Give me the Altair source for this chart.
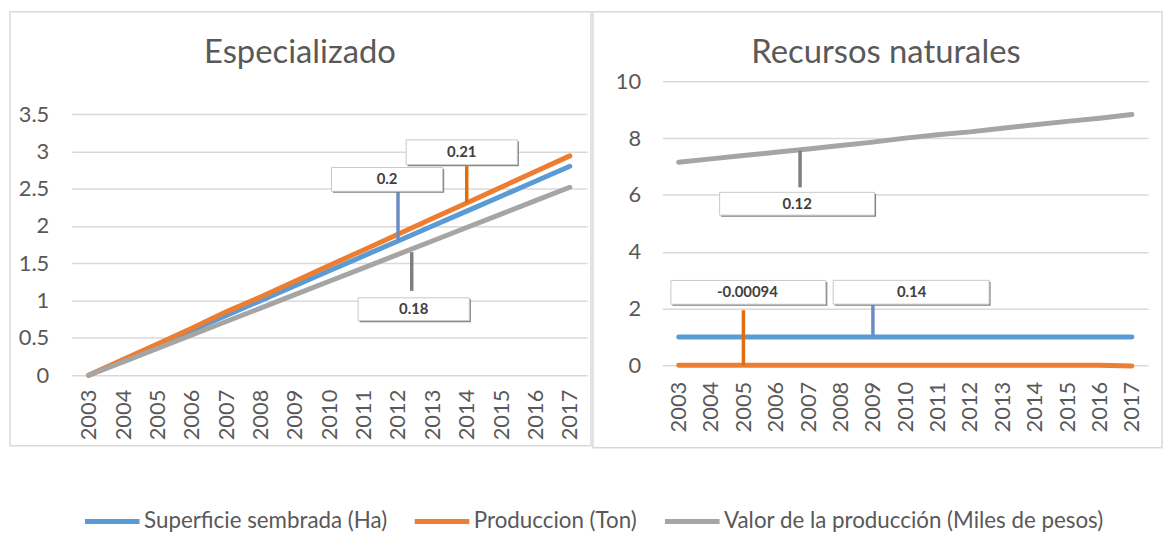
import altair as alt
import pandas as pd

# ---------------- data ----------------
years = list(range(2003, 2018))
series_names = ["Superficie sembrada (Ha)", "Produccion (Ton)",
                "Valor de la producción (Miles de pesos)"]
series_colors = ["#5B9BD5", "#ED7D31", "#A5A5A5"]
leader_colors = ["#6A8CC0", "#E46C0A", "#7F7F7F"]

# Panel "Especializado"
esp_superficie = [0.00, 0.20, 0.40, 0.60, 0.80, 1.00, 1.20, 1.40, 1.60, 1.80, 2.00, 2.20, 2.40, 2.60, 2.80]
esp_produccion = [0.00, 0.21, 0.42, 0.63, 0.85, 1.05, 1.26, 1.47, 1.68, 1.89, 2.10, 2.31, 2.52, 2.73, 2.94]
esp_valor      = [0.00, 0.18, 0.36, 0.54, 0.72, 0.90, 1.08, 1.26, 1.44, 1.62, 1.80, 1.98, 2.16, 2.34, 2.52]
esp_ticks = [0, 0.5, 1, 1.5, 2, 2.5, 3, 3.5]

# Panel "Recursos naturales"
rn_superficie = [1.0, 1.0, 1.0, 1.0, 1.0, 1.0, 1.0, 1.0, 1.0, 1.0, 1.0, 1.0, 1.0, 1.0, 1.0]
rn_produccion = [0.0, 0.0, 0.0, 0.0, 0.0, 0.0, 0.0, 0.0, 0.0, 0.0, 0.0, 0.0, 0.0, 0.0, -0.02]
rn_valor      = [7.15, 7.27, 7.39, 7.50, 7.62, 7.74, 7.86, 8.00, 8.12, 8.22, 8.35, 8.47, 8.59, 8.70, 8.83]
rn_ticks = [0, 2, 4, 6, 8, 10]

# Callout labels (slopes) and the point of the line they point to
esp_ann_labels = ["0.2", "0.21", "0.18"]
esp_ann_series = [0, 1, 2]
esp_ann_years = [2012, 2014, 2012.4]
esp_ann_values = [1.80, 2.31, 1.69]

rn_ann_labels = ["0.12", "-0.00094", "0.14"]
rn_ann_series = [2, 1, 0]
rn_ann_years = [2006.75, 2005, 2009]
rn_ann_values = [7.56, 0.0, 1.0]

# ---------------- styles (pixel offsets of callouts) ----------------
esp_callout_style = [
    dict(box=(-67, 45, -74, -50), lead=(-50, 0), txt=(-11, -62)),
    dict(box=(-61, 51, -63.5, -38.5), lead=(-37, 0), txt=(-5, -51)),
    dict(box=(-54, 58, 49, 72), lead=(3, 42), txt=(2, 60.5)),
]
rn_callout_style = [
    dict(box=(-81, 75, 42, 65), lead=(0, 37), txt=(-3, 53.5)),
    dict(box=(-73, 83, -85.5, -61.5), lead=(-55.5, 0), txt=(4, -73.5)),
    dict(box=(-40, 117, -57, -33), lead=(-33, 0), txt=(39, -45)),
]

FONT = "Lato"
TXT = "#595959"
AXIS_SIZE = 22

legend = alt.Legend(
    orient="none", legendX=11, legendY=413, direction="horizontal",
    symbolType="stroke", symbolStrokeWidth=5, symbolSize=3025,
    labelFont=FONT, labelFontSize=22.5, labelColor=TXT, labelLimit=700,
    columnPadding=17, labelOffset=2, padding=0, title=None,
)


def long_df(vals):
    rows = []
    for name, serie in zip(series_names, vals):
        for yr, v in zip(years, serie):
            rows.append({"year": yr, "valor": v, "serie": name})
    return pd.DataFrame(rows)


def callout(year, value, label, color, st):
    d = pd.DataFrame({"year": [year], "valor": [value], "label": [label]})
    base = alt.Chart(d)
    bx1, bx2, by1, by2 = st["box"]
    enc_box = dict(x="year:Q", x2="year", y="valor:Q", y2="valor")
    shadow = base.mark_rect(fill="#7F7F7F", xOffset=bx1 + 1.5, x2Offset=bx2 + 1.5,
                            yOffset=by1 + 1.5, y2Offset=by2 + 1.5).encode(**enc_box)
    box = base.mark_rect(fill="white", stroke="#C8C8C8", strokeWidth=1,
                         xOffset=bx1, x2Offset=bx2, yOffset=by1, y2Offset=by2).encode(**enc_box)
    lead = base.mark_rule(color=color, strokeWidth=3.5, yOffset=st["lead"][0],
                          y2Offset=st["lead"][1]).encode(x="year:Q", y="valor:Q", y2="valor")
    txt = base.mark_text(font=FONT, fontSize=15, fontWeight="bold", color="#404040",
                         align="center", baseline="middle",
                         dx=st["txt"][0], dy=st["txt"][1]).encode(
        x="year:Q", y="valor:Q", text="label:N")
    return [lead, shadow, box, txt]


def panel(vals, ticks, ymax, yfmt, width, height, yrange, xpad, ypad,
          title, title_x, frame, ann_labels, ann_series, ann_years, ann_values, styles):
    df = long_df(vals)
    if yrange is not None:
        yscale = alt.Scale(domain=[0, ymax], nice=False, zero=False, range=yrange)
    else:
        yscale = alt.Scale(domain=[0, ymax], nice=False, zero=False)
    lines = alt.Chart(df).mark_line(strokeWidth=5, strokeCap="round", strokeJoin="round").encode(
        x=alt.X("year:Q", scale=alt.Scale(domain=[2002.5, 2017.5], nice=False, zero=False),
                axis=alt.Axis(values=years, tickCount=len(years) + 5, format="d",
                              labelAngle=270, labelPadding=xpad,
                              labelFont=FONT, labelFontSize=AXIS_SIZE, labelColor=TXT,
                              ticks=False, domain=False, grid=False, labelFlush=False,
                              labelOverlap=False, title=None)),
        y=alt.Y("valor:Q", scale=yscale,
                axis=alt.Axis(values=ticks, tickCount=len(ticks) + 5, format=yfmt,
                              labelFont=FONT, labelFontSize=AXIS_SIZE, labelColor=TXT,
                              labelPadding=ypad, ticks=False, labelOverlap=False,
                              gridColor="#D9D9D9", gridWidth=1.5,
                              domain=False, grid=True, title=None)),
        color=alt.Color("serie:N", scale=alt.Scale(domain=series_names, range=series_colors),
                        legend=legend),
    )
    one = pd.DataFrame({"k": [0]})
    fx1, fx2, fy1, fy2 = frame
    frame_layer = alt.Chart(one).mark_rect(
        fill="transparent", stroke="#D9D9D9", strokeWidth=1.5).encode(
        x=alt.value(fx1), x2=alt.value(fx2), y=alt.value(fy1), y2=alt.value(fy2))
    title_layer = alt.Chart(one).mark_text(
        font=FONT, fontSize=33, color=TXT, align="center", baseline="alphabetic").encode(
        x=alt.value(title_x), y=alt.value(-18.5), text=alt.value(title))
    layers = [frame_layer, title_layer, lines]
    for lab, si, yr, v, st in zip(ann_labels, ann_series, ann_years, ann_values, styles):
        layers += callout(yr, v, lab, leader_colors[si], st)
    return alt.layer(*layers).properties(width=width, height=height)


left = panel([esp_superficie, esp_produccion, esp_valor], esp_ticks, 3.5, ".1~f",
             519, 296, [296, 33], 14, 23, "Especializado", 230, (-62, 523, -70, 367),
             esp_ann_labels, esp_ann_series, esp_ann_years, esp_ann_values, esp_callout_style)
right = panel([rn_superficie, rn_produccion, rn_valor], rn_ticks, 10, "d",
              489, 286, None, 16, 22, "Recursos naturales", 225, (-70, 503, -70, 369),
              rn_ann_labels, rn_ann_series, rn_ann_years, rn_ann_values, rn_callout_style)

chart = alt.hconcat(left, right, spacing=76, bounds="flush").properties(
    padding=0
).configure_view(stroke="transparent").configure_legend(symbolStrokeWidth=5)

chart.save("out.html", embed_options={"renderer": "svg", "actions": False})
